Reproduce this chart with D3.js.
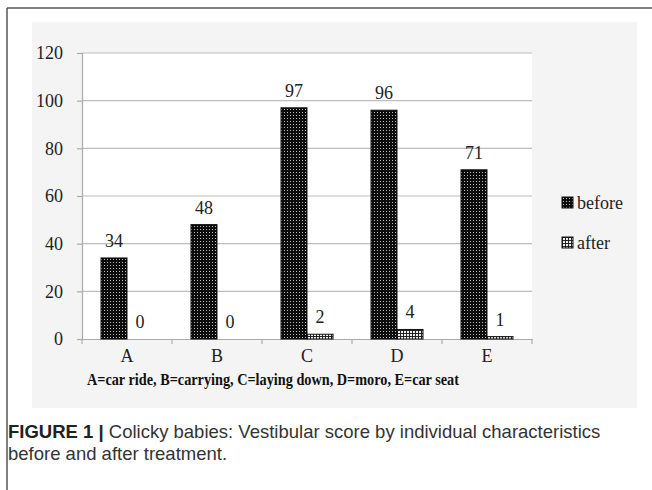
<!DOCTYPE html>
<html>
<head>
<meta charset="utf-8">
<script src="https://cdn.jsdelivr.net/npm/d3@7"></script>
<style>
  body { margin: 0; background: #fff; }
</style>
</head>
<body>
<div id="chart"></div>
<script>
var categories = ["A", "B", "C", "D", "E"];
var before = [34, 48, 97, 96, 71];
var after = [0, 0, 2, 4, 1];
var seriesNames = ["before", "after"];
var yTicks = [0, 20, 40, 60, 80, 100, 120];
var axisTitle = "A=car ride, B=carrying, C=laying down, D=moro, E=car seat";
var captionBold = "FIGURE 1 |";
var captionLine1 = " Colicky babies: Vestibular score by individual characteristics";
var captionLine2 = "before and after treatment.";

var W = 652, H = 490;
var pLeft = 82, pRight = 532, pTop = 53, pBottom = 339;
var serif = "'Liberation Serif', 'DejaVu Serif', serif";
var sans = "'Liberation Sans', Arial, sans-serif";

var svg = d3.select("#chart").append("svg").attr("width", W).attr("height", H);

// patterns for the bars
var defs = svg.append("defs");
var p1 = defs.append("pattern").attr("id", "pBefore")
  .attr("patternUnits", "userSpaceOnUse").attr("width", 3).attr("height", 3);
p1.append("rect").attr("width", 3).attr("height", 3).attr("fill", "#0c0c0c");
p1.append("rect").attr("x", 1).attr("y", 1).attr("width", 1).attr("height", 1).attr("fill", "#bbb");

var p2 = defs.append("pattern").attr("id", "pAfter")
  .attr("patternUnits", "userSpaceOnUse").attr("width", 3).attr("height", 3);
p2.append("rect").attr("width", 3).attr("height", 3).attr("fill", "#eee");
p2.append("rect").attr("width", 3).attr("height", 1).attr("fill", "#222");
p2.append("rect").attr("width", 1).attr("height", 3).attr("fill", "#222");

// outer frame
svg.append("line").attr("x1", 7).attr("x2", W).attr("y1", 8).attr("y2", 8)
  .attr("stroke", "#555").attr("stroke-width", 1.5);
svg.append("line").attr("x1", 7).attr("x2", 7).attr("y1", 8).attr("y2", H)
  .attr("stroke", "#555").attr("stroke-width", 1.5);

// chart panel
svg.append("rect").attr("x", 32).attr("y", 22).attr("width", 605).attr("height", 386)
  .attr("fill", "#f4f4f4");
svg.append("rect").attr("x", pLeft).attr("y", pTop).attr("width", pRight - pLeft).attr("height", pBottom - pTop)
  .attr("fill", "#fff");

var x0 = d3.scaleBand().domain(categories).range([pLeft, pRight]).paddingInner(0).paddingOuter(0);
var x1 = d3.scaleBand().domain(seriesNames).range([19, x0.bandwidth() - 19]).padding(0);
var y = d3.scaleLinear().domain([0, 120]).range([pBottom, pTop]);

// gridlines
svg.append("g").selectAll("line").data(yTicks.slice(1)).enter().append("line")
  .attr("x1", pLeft).attr("x2", pRight)
  .attr("y1", function (d) { return y(d); }).attr("y2", function (d) { return y(d); })
  .attr("stroke", "#bdbdbd").attr("stroke-width", 1.2);

// y axis
var yAxis = svg.append("g").attr("transform", "translate(" + pLeft + ",0)")
  .call(d3.axisLeft(y).tickValues(yTicks).tickSize(5).tickPadding(14));
yAxis.select(".domain").attr("stroke", "#aaa").attr("stroke-width", 1.2);
yAxis.selectAll(".tick line").attr("stroke", "#aaa").attr("stroke-width", 1.2);
yAxis.selectAll("text").style("font-family", serif).style("font-size", "18px").attr("fill", "#222");

// x axis
var xAxis = svg.append("g").attr("transform", "translate(0," + pBottom + ")")
  .call(d3.axisBottom(x0).tickSize(0).tickPadding(10));
xAxis.select(".domain").attr("stroke", "#aaa").attr("stroke-width", 1.2);
xAxis.selectAll("text").style("font-family", serif).style("font-size", "18px").attr("fill", "#222");
var bounds = categories.map(function (c) { return x0(c); }).concat([pRight]);
svg.append("g").selectAll("line").data(bounds).enter().append("line")
  .attr("x1", function (d) { return d; }).attr("x2", function (d) { return d; })
  .attr("y1", pBottom).attr("y2", pBottom + 5)
  .attr("stroke", "#aaa").attr("stroke-width", 1.2);

// bars
var rows = categories.map(function (c, i) {
  return { cat: c, values: [{ key: "before", v: before[i] }, { key: "after", v: after[i] }] };
});
var groups = svg.append("g").selectAll("g").data(rows).enter().append("g")
  .attr("transform", function (d) { return "translate(" + x0(d.cat) + ",0)"; });

groups.selectAll("rect").data(function (d) { return d.values; }).enter().append("rect")
  .attr("x", function (d) { return x1(d.key); })
  .attr("y", function (d) { return y(d.v); })
  .attr("width", x1.bandwidth())
  .attr("height", function (d) { return pBottom - y(d.v); })
  .attr("fill", function (d) { return d.key == "before" ? "url(#pBefore)" : "url(#pAfter)"; })
  .attr("stroke", "#111").attr("stroke-width", function (d) { return d.v > 0 ? 1 : 0; });

groups.selectAll("text").data(function (d) { return d.values; }).enter().append("text")
  .attr("x", function (d) { return x1(d.key) + x1.bandwidth() / 2; })
  .attr("y", function (d) { return y(d.v) - 11; })
  .attr("text-anchor", "middle")
  .style("font-family", serif).style("font-size", "18px").attr("fill", "#222")
  .text(function (d) { return d.v; });

// axis title
svg.append("text").attr("x", 273).attr("y", 385).attr("text-anchor", "middle")
  .attr("textLength", 372).attr("lengthAdjust", "spacingAndGlyphs")
  .style("font-family", serif)
  .style("font-size", "16px").style("font-weight", "bold")
  .attr("fill", "#111").text(axisTitle);

// legend
var legend = svg.append("g").selectAll("g").data(seriesNames).enter().append("g")
  .attr("transform", function (d, i) { return "translate(562," + (197 + i * 40) + ")"; });
legend.append("rect").attr("width", 11).attr("height", 11)
  .attr("fill", function (d) { return d == "before" ? "url(#pBefore)" : "url(#pAfter)"; })
  .attr("stroke", "#111").attr("stroke-width", 1);
legend.append("text").attr("x", 15).attr("y", 12)
  .style("font-family", serif).style("font-size", "18px").attr("fill", "#222")
  .text(function (d) { return d; });

// caption
var cap = svg.append("text").attr("x", 8).attr("y", 438)
  .style("font-family", sans).style("font-size", "18.5px").attr("fill", "#333");
cap.append("tspan").style("font-weight", "bold").attr("fill", "#222").text(captionBold);
cap.append("tspan").text(captionLine1);
svg.append("text").attr("x", 8).attr("y", 460)
  .style("font-family", sans).style("font-size", "18.5px").attr("fill", "#333")
  .text(captionLine2);
</script>
</body>
</html>
